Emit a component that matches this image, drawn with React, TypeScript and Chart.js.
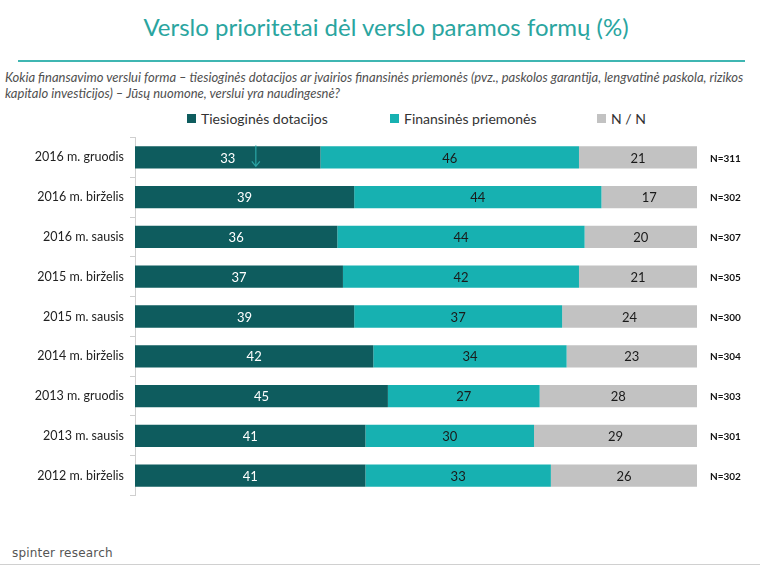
import React, { useEffect, useRef } from "react";
import { Chart, registerables } from "chart.js";
Chart.register(...registerables);

const categories = [
  "2016 m. gruodis",
  "2016 m. birželis",
  "2016 m. sausis",
  "2015 m. birželis",
  "2015 m. sausis",
  "2014 m. birželis",
  "2013 m. gruodis",
  "2013 m. sausis",
  "2012 m. birželis",
];
const tiesiogines = [33, 39, 36, 37, 39, 42.4, 45, 41, 41];
const finansines = [46, 44, 44, 42, 37, 34.4, 27, 30, 33];
const nn = [21, 17, 20, 21, 24, 23.2, 28, 29, 26];
const nLabels = ["N=311", "N=302", "N=307", "N=305", "N=300", "N=304", "N=303", "N=301", "N=302"];
const seriesNames = ["Tiesioginės dotacijos", "Finansinės priemonės", "N / N"];
const colors = ["#0e5c5e", "#17b1b1", "#c2c2c2"];
const labelColors = ["#ffffff", "#1a1a1a", "#1a1a1a"];

const FONT = "Lato, 'Open Sans', sans-serif";

const decorPlugin = {
  id: "decor",
  afterDatasetsDraw(chart: any) {
    const ctx = chart.ctx;
    ctx.save();
    ctx.textAlign = "center";
    ctx.textBaseline = "middle";
    chart.data.datasets.forEach((ds: any, di: number) => {
      const meta = chart.getDatasetMeta(di);
      meta.data.forEach((bar: any, i: number) => {
        const v = ds.data[i];
        const cx = (bar.x + bar.base) / 2;
        ctx.fillStyle = labelColors[di];
        ctx.font = `13px ${FONT}`;
        ctx.fillText(String(Math.round(v)), cx, bar.y + 1);
      });
    });
    // N labels
    const meta0 = chart.getDatasetMeta(0);
    ctx.font = `bold 10px ${FONT}`;
    ctx.fillStyle = "#111";
    ctx.textAlign = "left";
    meta0.data.forEach((bar: any, i: number) => {
      ctx.fillText(nLabels[i], chart.chartArea.right + 13, bar.y + 1);
    });
    // small arrow artifact on first bar
    const b = meta0.data[0];
    const ax = chart.scales.x.getPixelForValue(21.5);
    ctx.strokeStyle = "#2aa5a5";
    ctx.lineWidth = 1.2;
    ctx.beginPath();
    ctx.moveTo(ax, b.y - 12);
    ctx.lineTo(ax, b.y + 9);
    ctx.moveTo(ax - 4, b.y + 4);
    ctx.lineTo(ax, b.y + 9);
    ctx.lineTo(ax + 4, b.y + 4);
    ctx.stroke();
    ctx.restore();
  },
};

export default function App() {
  const ref = useRef<HTMLCanvasElement>(null);
  useEffect(() => {
    document.body.style.margin = "0";
    const chart = new Chart(ref.current!, {
      type: "bar",
      data: {
        labels: categories,
        datasets: [tiesiogines, finansines, nn].map((d, i) => ({
          label: seriesNames[i],
          data: d,
          backgroundColor: colors[i],
          borderWidth: 0,
          categoryPercentage: 1,
          barPercentage: 0.56,
        })),
      },
      options: {
        indexAxis: "y",
        animation: false,
        responsive: false,
        maintainAspectRatio: false,
        layout: { padding: { top: 8, bottom: 7, right: 63, left: 0 } },
        plugins: {
          legend: { display: false },
          tooltip: { enabled: false },
        },
        scales: {
          x: {
            stacked: true,
            min: 0,
            max: 100,
            display: false,
          },
          y: {
            stacked: true,
            afterFit: (s: any) => {
              s.width = 135;
            },
            border: { display: true, color: "#cfcfcf" },
            grid: {
              display: true,
              drawOnChartArea: false,
              offset: true,
              tickLength: 5,
              color: "#cfcfcf",
            },
            ticks: {
              color: "#222",
              font: { size: 12.5, family: FONT },
              padding: 6,
            },
          },
        },
      },
      plugins: [decorPlugin],
    });
    return () => chart.destroy();
  }, []);

  const legendItems = [
    { x: 187, label: seriesNames[0], c: colors[0] },
    { x: 390, label: seriesNames[1], c: colors[1] },
    { x: 597, label: seriesNames[2], c: colors[2] },
  ];

  return (
    <div style={{ position: "relative", width: 760, height: 568, background: "#fff", fontFamily: FONT, overflow: "hidden" }}>
      <div style={{ position: "absolute", top: 12, left: 0, width: 772, textAlign: "center", color: "#2aa5a0", fontSize: 24, lineHeight: "30px" }}>
        Verslo prioritetai dėl verslo paramos formų (%)
      </div>
      <div style={{ position: "absolute", top: 60, left: 18, width: 727, height: 2, background: "#3fb6b2" }} />
      <div style={{ position: "absolute", top: 69, left: 5, width: 755, color: "#505050", fontSize: 13, fontStyle: "italic", lineHeight: "16px", whiteSpace: "nowrap" }}>
        Kokia finansavimo verslui forma – tiesioginės dotacijos ar įvairios finansinės priemonės (pvz., paskolos garantija, lengvatinė paskola, rizikos
        <br />
        kapitalo investicijos) – Jūsų nuomone, verslui yra naudingesnė?
      </div>
      {legendItems.map((it) => (
        <div key={it.label} style={{ position: "absolute", top: 110, left: it.x, display: "flex", alignItems: "center", fontSize: 14, color: "#333", whiteSpace: "nowrap" }}>
          <span style={{ display: "inline-block", width: 9, height: 9, background: it.c, marginRight: 5 }} />
          {it.label}
        </div>
      ))}
      <canvas ref={ref} width={760} height={385} style={{ position: "absolute", top: 124, left: 0 }} />
      <div style={{ position: "absolute", top: 546, left: 12, color: "#555", fontSize: 12, fontFamily: "'DejaVu Sans', sans-serif", letterSpacing: 0.2 }}>
        spinter research
      </div>
      <div style={{ position: "absolute", top: 564, left: 0, width: 760, height: 1, background: "#d0d0d0" }} />
    </div>
  );
}
